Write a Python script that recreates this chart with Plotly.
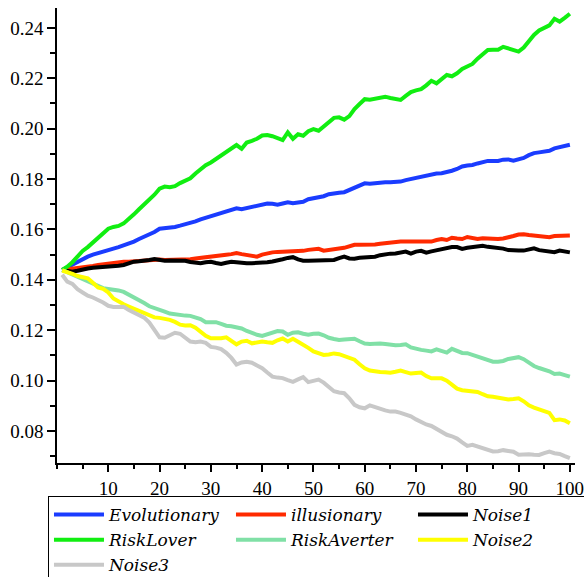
import plotly.graph_objects as go

# Simulation steps 1..100
steps = list(range(1, 101))

evolutionary = [
    .1439, .1450, .1460, .1470, .1480, .1492, .1500, .1505, .1512, .1518,
    .1524, .1530, .1536, .1543, .1552, .1562, .1570, .1580, .1590, .1603,
    .1605, .1605, .1610, .1615, .1620, .1625, .1632, .1640, .1646, .1652,
    .1658, .1663, .1668, .1675, .1684, .1680, .1684, .1688, .1692, .1696,
    .1703, .1702, .1698, .1703, .1708, .1704, .1707, .1710, .1720, .1724,
    .1724, .1732, .1740, .1744, .1746, .1748, .1757, .1766, .1775, .1783,
    .1781, .1784, .1787, .1787, .1787, .1788, .1790, .1796, .1801, .1804,
    .1807, .1814, .1820, .1822, .1823, .1827, .1833, .1840, .1850, .1854,
    .1856, .1862, .1868, .1872, .1872, .1872, .1877, .1878, .1873, .1878,
    .1884, .1895, .1903, .1906, .1909, .1912, .1922, .1926, .1928, .1936,
]

illusionary = [
    .1439, .1441, .1444, .1446, .1448, .1451, .1455, .1459, .1462, .1465,
    .1468, .1471, .1472, .1472, .1474, .1476, .1478, .1481, .1483, .1481,
    .1479, .1479, .1479, .1479, .1480, .1482, .1485, .1488, .1491, .1494,
    .1496, .1498, .1500, .1502, .1506, .1502, .1499, .1496, .1492, .1500,
    .1506, .1509, .1511, .1512, .1512, .1512, .1512, .1515, .1519, .1521,
    .1523, .1516, .1520, .1523, .1524, .1527, .1534, .1539, .1539, .1539,
    .1539, .1540, .1543, .1546, .1550, .1552, .1552, .1552, .1552, .1552,
    .1552, .1552, .1552, .1558, .1562, .1558, .1567, .1564, .1562, .1570,
    .1568, .1562, .1565, .1564, .1562, .1562, .1564, .1568, .1574, .1580,
    .1581, .1578, .1575, .1572, .1570, .1569, .1574, .1576, .1576, .1576,
]

noise1 = [
    .1439, .1436, .1432, .1436, .1442, .1445, .1448, .1449, .1450, .1451,
    .1453, .1456, .1459, .1466, .1472, .1474, .1475, .1479, .1483, .1479,
    .1476, .1477, .1478, .1479, .1476, .1471, .1468, .1466, .1470, .1472,
    .1467, .1463, .1468, .1472, .1470, .1467, .1466, .1466, .1466, .1466,
    .1470, .1473, .1476, .1482, .1487, .1490, .1481, .1476, .1476, .1476,
    .1476, .1477, .1478, .1479, .1486, .1492, .1485, .1484, .1488, .1490,
    .1491, .1492, .1498, .1503, .1504, .1505, .1507, .1512, .1504, .1512,
    .1515, .1508, .1513, .1517, .1522, .1526, .1530, .1530, .1523, .1527,
    .1530, .1533, .1535, .1531, .1529, .1528, .1524, .1518, .1516, .1516,
    .1516, .1519, .1525, .1518, .1516, .1516, .1510, .1516, .1512, .1509,
]

risk_lover = [
    .1439, .1452, .1470, .1495, .1515, .1530, .1548, .1570, .1588, .1603,
    .1610, .1614, .1624, .1640, .1660, .1680, .1698, .1718, .1738, .1762,
    .1770, .1768, .1772, .1784, .1792, .1803, .1822, .1840, .1855, .1866,
    .1880, .1895, .1908, .1920, .1935, .1920, .1945, .1952, .1960, .1973,
    .1975, .1970, .1962, .1955, .1985, .1960, .1978, .1972, .1990, .1998,
    .1992, .2010, .2030, .2043, .2045, .2036, .2050, .2078, .2098, .2117,
    .2115, .2120, .2125, .2127, .2122, .2116, .2114, .2130, .2145, .2152,
    .2157, .2172, .2190, .2180, .2198, .2213, .2208, .2220, .2237, .2248,
    .2257, .2278, .2295, .2312, .2313, .2313, .2325, .2318, .2310, .2306,
    .2322, .2350, .2372, .2390, .2400, .2410, .2436, .2425, .2440, .2456,
]

risk_averter = [
    .1439, .1430, .1422, .1414, .1407, .1397, .1386, .1376, .1367, .1364,
    .1362, .1358, .1352, .1342, .1332, .1321, .1308, .1295, .1289, .1283,
    .1274, .1266, .1262, .1258, .1258, .1257, .1250, .1244, .1232, .1232,
    .1232, .1225, .1218, .1216, .1212, .1207, .1197, .1188, .1182, .1177,
    .1184, .1192, .1197, .1195, .1182, .1190, .1192, .1186, .1182, .1186,
    .1187, .1180, .1170, .1165, .1161, .1163, .1166, .1166, .1156, .1147,
    .1145, .1147, .1147, .1145, .1142, .1140, .1141, .1144, .1132, .1125,
    .1122, .1119, .1116, .1124, .1118, .1111, .1126, .1116, .1110, .1109,
    .1102, .1092, .1085, .1078, .1075, .1075, .1078, .1086, .1091, .1093,
    .1085, .1070, .1058, .1050, .1045, .1037, .1026, .1028, .1022, .1016,
]

noise2 = [
    .1437, .1432, .1424, .1415, .1409, .1406, .1388, .1370, .1364, .1350,
    .1326, .1313, .1303, .1294, .1285, .1275, .1265, .1257, .1251, .1249,
    .1247, .1241, .1233, .1222, .1219, .1220, .1210, .1195, .1178, .1168,
    .1168, .1168, .1172, .1158, .1144, .1155, .1158, .1148, .1150, .1155,
    .1152, .1150, .1160, .1167, .1155, .1166, .1154, .1143, .1130, .1116,
    .1108, .1102, .1104, .1108, .1105, .1098, .1092, .1083, .1065, .1049,
    .1040, .1035, .1034, .1033, .1031, .1035, .1040, .1034, .1028, .1030,
    .1032, .1018, .1009, .1009, .1009, .1000, .0984, .0968, .0962, .0960,
    .0958, .0955, .0946, .0938, .0936, .0932, .0925, .0925, .0927, .0930,
    .0918, .0902, .0893, .0885, .0880, .0872, .0843, .0846, .0842, .0831,
]

noise3 = [
    .1420, .1393, .1384, .1363, .1350, .1337, .1330, .1322, .1310, .1297,
    .1292, .1292, .1293, .1280, .1269, .1260, .1250, .1230, .1200, .1172,
    .1170, .1182, .1190, .1186, .1170, .1155, .1152, .1155, .1150, .1134,
    .1131, .1125, .1110, .1090, .1064, .1072, .1075, .1071, .1060, .1049,
    .1032, .1016, .1012, .1010, .1002, .0995, .1005, .1014, .0994, .1000,
    .1004, .0992, .0975, .0958, .0953, .0950, .0930, .0904, .0894, .0890,
    .0902, .0895, .0886, .0882, .0877, .0877, .0872, .0866, .0858, .0846,
    .0834, .0826, .0820, .0808, .0794, .0785, .0779, .0770, .0755, .0741,
    .0745, .0738, .0730, .0725, .0719, .0720, .0724, .0721, .0718, .0706,
    .0708, .0708, .0706, .0705, .0712, .0718, .0712, .0709, .0700, .0692,
]

series = [
    ("Evolutionary", evolutionary, "#1a3cff"),
    ("illusionary", illusionary, "#ff2a00"),
    ("Noise1", noise1, "#000000"),
    ("RiskLover", risk_lover, "#11ee11"),
    ("RiskAverter", risk_averter, "#80e0a6"),
    ("Noise2", noise2, "#ffff00"),
    ("Noise3", noise3, "#c8c8c8"),
]

fig = go.Figure()
for name, vals, color in series:
    fig.add_trace(go.Scatter(
        x=steps, y=vals, mode="lines", name=name,
        line=dict(color=color, width=4),
    ))

tick_font = "Liberation Serif"
legend_font = "DejaVu Serif"

fig.update_layout(
    width=584, height=577,
    margin=dict(l=57, r=9, t=8, b=114, autoexpand=False),
    paper_bgcolor="white", plot_bgcolor="white",
    font=dict(family=tick_font, size=19, color="black"),
    showlegend=True,
    legend=dict(
        orientation="h",
        x=-0.0174, y=-0.0725, xanchor="left", yanchor="top",
        bordercolor="black", borderwidth=1,
        font=dict(family=legend_font, size=17, color="black", style="italic"),
        itemwidth=50,
        entrywidth=117, entrywidthmode="pixels",
        traceorder="normal",
    ),
)

fig.update_xaxes(
    range=[0, 101], showgrid=False, zeroline=False,
    showline=True, linecolor="black", linewidth=1.5,
    ticks="outside", ticklen=7, tickwidth=1.5, tickcolor="black",
    tickvals=[10, 20, 30, 40, 50, 60, 70, 80, 90, 100],
    ticklabeloverflow="allow",
    tickfont=dict(family=tick_font, size=19, color="black"),
    minor=dict(ticks="outside", ticklen=4, tickwidth=1.5, tickcolor="black", dtick=5, tick0=0),
)
fig.update_yaxes(
    range=[0.0673, 0.2479], showgrid=False, zeroline=False,
    showline=True, linecolor="black", linewidth=1.5,
    ticks="outside", ticklen=8, tickwidth=1.5, tickcolor="black",
    tickvals=[0.08, 0.10, 0.12, 0.14, 0.16, 0.18, 0.20, 0.22, 0.24],
    tickformat=".2f",
    ticklabeloverflow="allow",
    tickfont=dict(family=tick_font, size=19, color="black"),
    minor=dict(ticks="outside", ticklen=5, tickwidth=1.5, tickcolor="black", dtick=0.01, tick0=0),
)

fig.write_html("out.html")
